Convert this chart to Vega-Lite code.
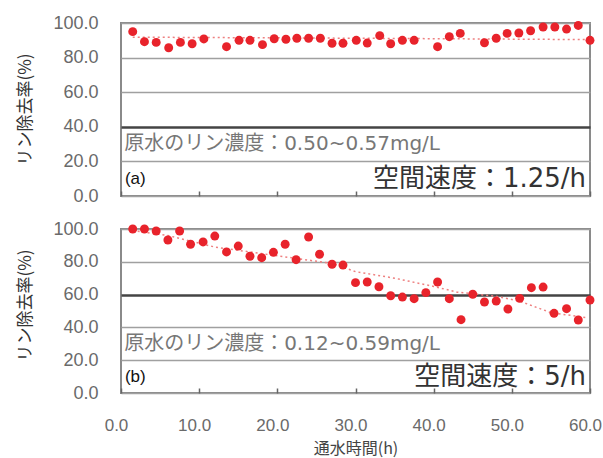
{
  "$schema": "https://vega.github.io/schema/vega-lite/v6.json",
  "background": "white",
  "padding": {"left": 14, "top": 13, "right": 2, "bottom": 2},
  "spacing": 33,
  "bounds": "flush",
  "config": {
    "view": {"stroke": "#8a8a8a", "strokeWidth": 2},
    "axis": {
      "labelFont": "Liberation Sans",
      "labelFontSize": 18,
      "labelColor": "#6a6a6a",
      "labelFlush": false,
      "titleFont": "Noto Sans CJK JP",
      "titleFontSize": 17,
      "titleColor": "#333333",
      "titleFontWeight": "normal"
    }
  },
  "datasets": {
    "a": [
      {"h": 1.5, "v": 95.0}, {"h": 3.0, "v": 89.2}, {"h": 4.5, "v": 88.8}, {"h": 6.1, "v": 85.7},
      {"h": 7.6, "v": 88.8}, {"h": 9.1, "v": 88.0}, {"h": 10.6, "v": 90.8}, {"h": 13.5, "v": 86.3},
      {"h": 15.1, "v": 90.0}, {"h": 16.5, "v": 90.0}, {"h": 18.1, "v": 87.5}, {"h": 19.6, "v": 90.9},
      {"h": 21.1, "v": 90.6}, {"h": 22.5, "v": 91.2}, {"h": 24.0, "v": 91.2}, {"h": 25.5, "v": 91.2},
      {"h": 27.0, "v": 88.3}, {"h": 28.4, "v": 88.3}, {"h": 30.1, "v": 90.0}, {"h": 31.5, "v": 88.4},
      {"h": 33.1, "v": 92.7}, {"h": 34.5, "v": 88.0}, {"h": 36.0, "v": 90.0}, {"h": 37.5, "v": 90.0},
      {"h": 40.5, "v": 86.3}, {"h": 42.0, "v": 92.1}, {"h": 43.4, "v": 94.0}, {"h": 46.5, "v": 88.6},
      {"h": 48.0, "v": 91.2}, {"h": 49.4, "v": 94.0}, {"h": 50.9, "v": 94.2}, {"h": 52.4, "v": 95.5},
      {"h": 54.0, "v": 97.7}, {"h": 55.5, "v": 97.7}, {"h": 57.0, "v": 96.5}, {"h": 58.5, "v": 98.6},
      {"h": 60.0, "v": 90.0}
    ],
    "b": [
      {"h": 1.5, "v": 100}, {"h": 3.0, "v": 100}, {"h": 4.5, "v": 98.8}, {"h": 6.0, "v": 93.3},
      {"h": 7.5, "v": 98.8}, {"h": 8.9, "v": 90.7}, {"h": 10.5, "v": 92.1}, {"h": 12.0, "v": 95.7},
      {"h": 13.5, "v": 86.0}, {"h": 15.0, "v": 89.6}, {"h": 16.5, "v": 83.4}, {"h": 18.0, "v": 82.5},
      {"h": 19.5, "v": 85.8}, {"h": 21.0, "v": 90.7}, {"h": 22.4, "v": 81.3}, {"h": 24.0, "v": 95.1},
      {"h": 25.4, "v": 84.6}, {"h": 27.0, "v": 78.5}, {"h": 28.4, "v": 78.0}, {"h": 30.0, "v": 67.3},
      {"h": 31.5, "v": 67.7}, {"h": 33.0, "v": 64.8}, {"h": 34.5, "v": 59.3}, {"h": 36.0, "v": 58.5},
      {"h": 37.5, "v": 57.5}, {"h": 39.0, "v": 61.2}, {"h": 40.5, "v": 67.7}, {"h": 42.0, "v": 57.5},
      {"h": 43.5, "v": 44.7}, {"h": 45.0, "v": 60.2}, {"h": 46.5, "v": 55.5}, {"h": 48.0, "v": 56.1},
      {"h": 49.5, "v": 51.2}, {"h": 51.0, "v": 57.7}, {"h": 52.5, "v": 64.2}, {"h": 54.0, "v": 64.6},
      {"h": 55.4, "v": 48.6}, {"h": 57.0, "v": 51.4}, {"h": 58.5, "v": 44.5}, {"h": 60.0, "v": 56.7}
    ],
    "trendA": [
      {"h": 1.5, "v": 91.8}, {"h": 30, "v": 91.2}, {"h": 60, "v": 90.4}
    ],
    "trendB": [
      {"h": 1.5, "v": 99}, {"h": 6, "v": 96}, {"h": 12, "v": 89}, {"h": 18, "v": 85},
      {"h": 22.5, "v": 82}, {"h": 27, "v": 79}, {"h": 30, "v": 74}, {"h": 35, "v": 70},
      {"h": 40, "v": 65}, {"h": 43, "v": 61.5}, {"h": 48, "v": 59}, {"h": 51, "v": 56},
      {"h": 55, "v": 49}, {"h": 59.5, "v": 46}
    ]
  },
  "vconcat": [
    {
      "width": 469,
      "height": 173,
      "encoding": {
        "x": {
          "field": "h", "type": "quantitative",
          "scale": {"domain": [0, 60], "nice": false, "zero": false},
          "axis": {
            "values": [0, 10, 20, 30, 40, 50, 60],
            "labels": false, "title": null, "grid": false, "domain": false,
            "ticks": true, "tickSize": -5, "tickColor": "#666666", "tickWidth": 1.5
          }
        },
        "y": {
          "field": "v", "type": "quantitative",
          "scale": {"domain": [0, 100], "nice": false},
          "axis": {
            "values": [0, 20, 40, 60, 80, 100],
            "format": ".1f",
            "title": "リン除去率(%)",
            "ticks": false, "domain": false,
            "labelPadding": 23,
            "titleX": -96, "titleY": 86, "titleBaseline": "middle", "titleAngle": -90,
            "gridColor": {"condition": {"test": "datum.value === 40", "value": "#444444"}, "value": "#a0a0a0"},
            "gridWidth": {"condition": {"test": "datum.value === 40", "value": 2.5}, "value": 1.5}
          }
        }
      },
      "layer": [
        {
          "data": {"name": "trendA"},
          "mark": {"type": "line", "color": "#ee8080", "strokeDash": [2, 3], "strokeWidth": 1.5}
        },
        {
          "data": {"name": "a"},
          "mark": {"type": "circle", "size": 80, "color": "#e8232b", "opacity": 1}
        },
        {
          "data": {"values": [{"h": 0.4, "v": 30, "t": "原水のリン濃度：0.50~0.57mg/L"}]},
          "mark": {"type": "text", "align": "left", "baseline": "middle", "font": "DejaVu Sans, Noto Sans CJK JP", "fontSize": 20, "color": "#777777"},
          "encoding": {"text": {"field": "t"}}
        },
        {
          "data": {"values": [{"h": 0.5, "v": 10, "t": "(a)"}]},
          "mark": {"type": "text", "align": "left", "baseline": "middle", "font": "Liberation Sans", "fontSize": 17, "color": "#111111"},
          "encoding": {"text": {"field": "t"}}
        },
        {
          "data": {"values": [{"h": 59.5, "v": 10, "t": "空間速度：1.25/h"}]},
          "mark": {"type": "text", "align": "right", "baseline": "middle", "font": "DejaVu Sans, Noto Sans CJK JP", "fontSize": 26, "color": "#333333"},
          "encoding": {"text": {"field": "t"}}
        }
      ]
    },
    {
      "width": 469,
      "height": 164,
      "encoding": {
        "x": {
          "field": "h", "type": "quantitative",
          "scale": {"domain": [0, 60], "nice": false, "zero": false},
          "axis": {
            "values": [0, 10, 20, 30, 40, 50, 60],
            "format": ".1f",
            "title": "通水時間(h)",
            "grid": false, "domain": false,
            "ticks": true, "tickSize": -5, "tickColor": "#666666", "tickWidth": 1.5,
            "labelPadding": 29, "labelOffset": -5, "labelFontSize": 17,
            "titleY": 55, "titleBaseline": "middle", "titleColor": "#444444", "titleFontSize": 16
          }
        },
        "y": {
          "field": "v", "type": "quantitative",
          "scale": {"domain": [0, 100], "nice": false},
          "axis": {
            "values": [0, 20, 40, 60, 80, 100],
            "format": ".1f",
            "title": "リン除去率(%)",
            "ticks": false, "domain": false,
            "labelPadding": 23,
            "titleX": -96, "titleY": 76, "titleBaseline": "middle", "titleAngle": -90,
            "gridColor": {"condition": {"test": "datum.value === 60", "value": "#444444"}, "value": "#a0a0a0"},
            "gridWidth": {"condition": {"test": "datum.value === 60", "value": 2.5}, "value": 1.5}
          }
        }
      },
      "layer": [
        {
          "data": {"name": "trendB"},
          "mark": {"type": "line", "color": "#ee8080", "strokeDash": [2, 3], "strokeWidth": 1.5}
        },
        {
          "data": {"name": "b"},
          "mark": {"type": "circle", "size": 80, "color": "#e8232b", "opacity": 1}
        },
        {
          "data": {"values": [{"h": 0.4, "v": 30, "t": "原水のリン濃度：0.12~0.59mg/L"}]},
          "mark": {"type": "text", "align": "left", "baseline": "middle", "font": "DejaVu Sans, Noto Sans CJK JP", "fontSize": 20, "color": "#777777"},
          "encoding": {"text": {"field": "t"}}
        },
        {
          "data": {"values": [{"h": 0.5, "v": 10, "t": "(b)"}]},
          "mark": {"type": "text", "align": "left", "baseline": "middle", "font": "Liberation Sans", "fontSize": 17, "color": "#111111"},
          "encoding": {"text": {"field": "t"}}
        },
        {
          "data": {"values": [{"h": 59.5, "v": 10, "t": "空間速度：5/h"}]},
          "mark": {"type": "text", "align": "right", "baseline": "middle", "font": "DejaVu Sans, Noto Sans CJK JP", "fontSize": 26, "color": "#333333"},
          "encoding": {"text": {"field": "t"}}
        }
      ]
    }
  ]
}
